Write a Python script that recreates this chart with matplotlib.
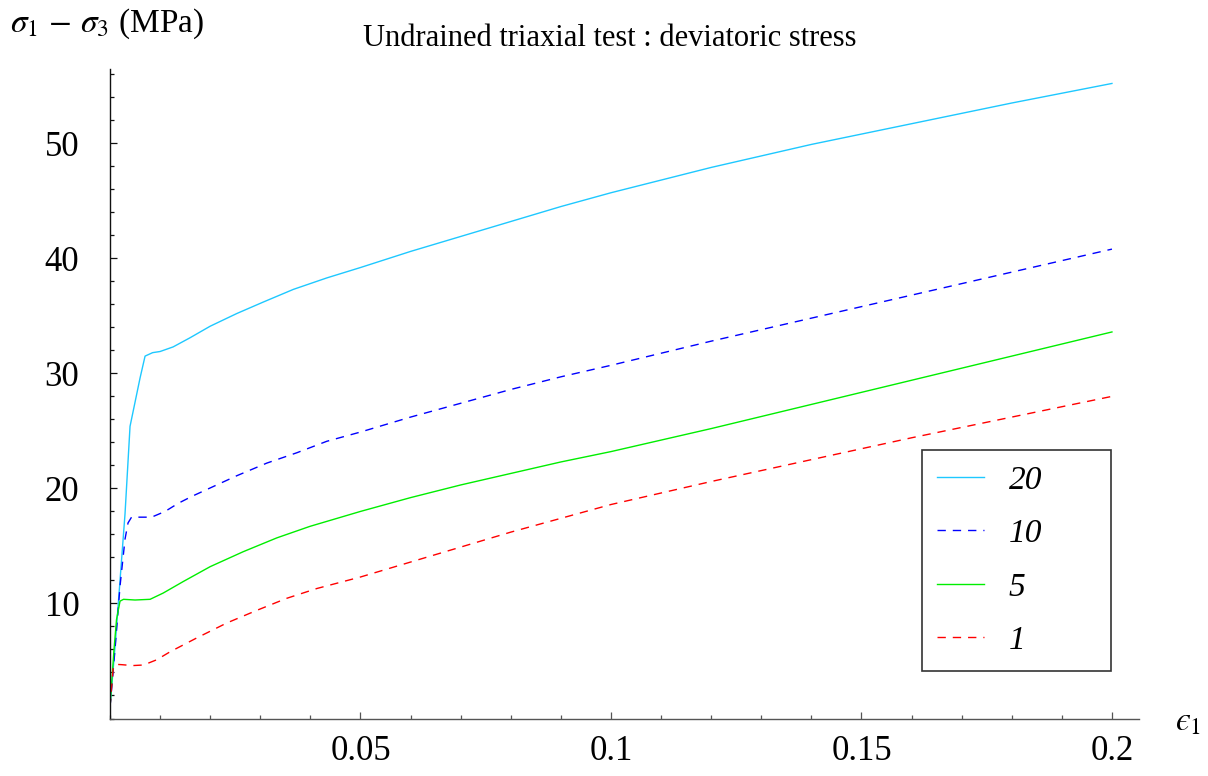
import numpy as np
import matplotlib
matplotlib.use("Agg")
import matplotlib.pyplot as plt
from matplotlib.ticker import MultipleLocator, FixedLocator

plt.rcParams["font.family"] = ["Liberation Serif", "DejaVu Serif"]
plt.rcParams["mathtext.fontset"] = "stix"

# confinement pressure 20 / 10 / 5 / 1 MPa : strain eps1 vs deviatoric stress
eps20 = [0, .001, .002, .003, .004, .005, .006, .007, .0085, .010, .0126, .016,
         .020, .0253, .0306, .0366, .0433, .050, .060, .070, .080, .090, .100,
         .120, .140, .160, .180, .200]
q20 = [1.0, 6.2, 12.0, 17.8, 25.4, 27.5, 29.6, 31.5, 31.8, 31.9, 32.3, 33.1,
       34.1, 35.2, 36.2, 37.3, 38.3, 39.2, 40.6, 41.9, 43.2, 44.5, 45.7,
       47.9, 49.9, 51.7, 53.5, 55.2]

eps10 = [0, .001, .002, .003, .0036, .0043, .0083, .011, .0136, .0163, .0193,
         .0253, .0313, .0373, .0433, .050, .060, .070, .080, .090, .100, .120,
         .140, .160, .180, .200]
q10 = [1.0, 6.0, 11.5, 15.6, 17.0, 17.5, 17.5, 18.0, 18.7, 19.3, 19.9,
       21.1, 22.2, 23.1, 24.1, 24.9, 26.2, 27.4, 28.6, 29.7, 30.7, 32.8,
       34.8, 36.8, 38.8, 40.8]

eps5 = [0, .0008, .0013, .002, .0027, .005, .008, .0106, .0146, .020, .0266,
        .0333, .0399, .050, .060, .070, .080, .090, .100, .120, .140, .160,
        .180, .200]
q5 = [1.0, 6.0, 8.6, 10.2, 10.36, 10.3, 10.36, 10.9, 11.9, 13.2, 14.5,
      15.7, 16.7, 18.0, 19.2, 20.3, 21.3, 22.3, 23.2, 25.2, 27.3, 29.4,
      31.5, 33.6]

eps1 = [0, .00066, .0015, .0023, .0045, .0067, .0093, .012, .0173, .0233, .0293,
        .0353, .0413, .050, .060, .070, .080, .090, .100, .120, .140, .160,
        .180, .200]
q1 = [1.0, 4.5, 4.7, 4.68, 4.6, 4.65, 5.1, 5.8, 7.0, 8.3, 9.4,
      10.45, 11.3, 12.3, 13.6, 14.9, 16.2, 17.4, 18.6, 20.6, 22.5, 24.4,
      26.2, 28.0]

labels = ["20", "10", "5", "1"]
xticks = [0.05, 0.1, 0.15, 0.2]
xticklabels = ["0.05", "0.1", "0.15", "0.2"]
yticks = [10, 20, 30, 40, 50]

W, H = 1208, 776
fig = plt.figure(figsize=(W / 100, H / 100), dpi=100)
# axes cross at origin (pixel 110, 718.5)
ax = fig.add_axes([110 / W, (H - 718.5) / H, 1029 / W, 650 / H])
ax.set_xlim(0, 0.2054)
ax.set_ylim(0, 56.5)

lw = 1.0
ax.plot(eps20, q20, color="#1ec8ff", lw=lw, label=labels[0])
ax.plot(eps10, q10, color="#0000ff", lw=lw, dashes=(6, 5), label=labels[1])
ax.plot(eps5, q5, color="#00ee00", lw=lw, label=labels[2])
ax.plot(eps1, q1, color="#ff0000", lw=lw, dashes=(6, 5), label=labels[3])

for s in ["top", "right"]:
    ax.spines[s].set_visible(False)
ax.spines["bottom"].set_color("#555555")
ax.spines["left"].set_color("#111111")
ax.spines["bottom"].set_linewidth(1.0)
ax.spines["left"].set_linewidth(1.0)

ax.xaxis.set_major_locator(FixedLocator(xticks))
ax.set_xticklabels(xticklabels)
ax.xaxis.set_minor_locator(MultipleLocator(0.01))
ax.yaxis.set_major_locator(FixedLocator(yticks))
ax.yaxis.set_minor_locator(MultipleLocator(2))

ax.tick_params(axis="x", which="major", direction="in", length=5, width=0.9,
               color="#555555", labelsize=25, pad=12)
ax.tick_params(axis="x", which="minor", direction="in", length=3, width=0.9,
               color="#555555")
ax.tick_params(axis="y", which="major", direction="in", length=5, width=0.9,
               color="#111111", labelsize=25, pad=22)
ax.tick_params(axis="y", which="minor", direction="in", length=3, width=0.9,
               color="#111111")

leg = ax.legend(loc="lower left", bbox_to_anchor=(0.789, 0.073, 0.184, 0.34),
                mode="expand", borderaxespad=0, fancybox=False, framealpha=1,
                edgecolor="#333333", handlelength=1.4, handletextpad=0.75,
                labelspacing=0.69, borderpad=0.45,
                prop={"family": "Liberation Serif", "style": "italic", "size": 24})
leg.get_frame().set_linewidth(1.2)

fig.text(10 / W, 1 - 24 / H, r"$\sigma_1\,-\,\sigma_3$ (MPa)", fontsize=24,
         ha="left", va="center")
fig.text(610 / W, 1 - 38 / H, "Undrained triaxial test : deviatoric stress",
         fontsize=22, ha="center", va="center")
fig.text(1188 / W, 1 - 722 / H, "$\u03f5_1$", fontsize=24,
         ha="center", va="center")

fig.savefig("out.png", dpi=100)
